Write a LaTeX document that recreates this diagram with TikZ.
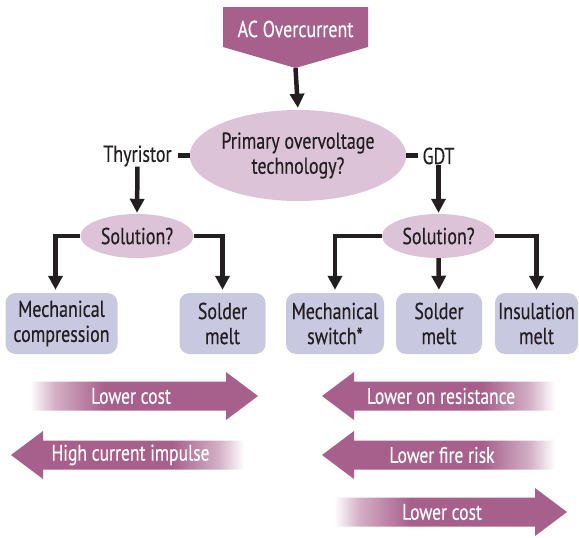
\documentclass[tikz,border=0pt]{standalone}
\usepackage{fontspec}
\setmainfont{PT Sans}[FakeStretch=0.78,FakeBold=0.4]
\usepackage{xcolor}
\definecolor{plum}{HTML}{A75F8B}
\definecolor{lilac}{HTML}{DCC3D7}
\definecolor{lav}{HTML}{C9C8E1}
\definecolor{ink}{HTML}{231F20}
\usepackage{tikz}
\usetikzlibrary{arrows.meta,positioning,shapes.geometric}
% white to plum (fade at the tail of right-pointing bands)
\pgfdeclarehorizontalshading{fadeL}{100bp}{color(0bp)=(white); color(25bp)=(white); color(30.5bp)=(plum!50); color(41.5bp)=(plum); color(100bp)=(plum)}
% plum to white (fade at the tail of left-pointing bands)
\pgfdeclarehorizontalshading{fadeR}{100bp}{color(0bp)=(plum); color(59.5bp)=(plum); color(69.5bp)=(plum!50); color(75bp)=(white); color(100bp)=(white)}
\tikzset{
  >={Triangle[length=14pt,width=14pt]},
  lnk/.style={draw=ink,line width=4.5pt},
  arr/.style={lnk,->,shorten >=3pt},
  qell/.style={ellipse,fill=lilac,inner sep=0pt,text=ink,align=center},
  box/.style={rectangle,rounded corners=10pt,fill=lav,inner sep=0pt,text=ink,align=center,minimum height=61pt},
  lab/.style={text=ink,inner sep=0pt},
  wlab/.style={text=white,inner sep=0pt},
  blab/.style={wlab,font=\fontsize{22.5}{25}\selectfont},
}

\begin{document}
\begin{tikzpicture}[x=1pt,y=-1pt,every node/.style={font=\fontsize{23}{25}\selectfont}]
\useasboundingbox (0,0) rectangle (579,538);
% top block
\fill[plum] (223,7) -- (368,7) -- (368,47) -- (295.5,68) -- (223,47) -- cycle;
\node[wlab] (ac) at (295.5,29) {AC Overcurrent};
\coordinate (actip) at (295.5,68);
\node[qell,minimum width=202pt,minimum height=91pt] (prim) at (298,155.5) {Primary overvoltage\\technology?};
\draw[arr,shorten >=2pt] (actip) -- (prim.north);
% branches
\node[lab] (thy) at (137.5,156) {Thyristor};
\node[lab] (gdt) at (438.5,156) {GDT};
\draw[lnk,shorten >=6pt] (prim.west) -- (prim.west -| thy.east);
\draw[lnk,shorten >=4pt] (prim.east) -- (prim.east -| gdt.west);
\node[qell,minimum width=113pt,minimum height=44pt] (solL) at (137,236) {Solution?};
\node[qell,minimum width=113pt,minimum height=44pt] (solR) at (438.5,236) {Solution?};
\draw[arr,shorten >=1pt] (thy.south) -- (solL.north);
\draw[arr,shorten >=1pt] (gdt.south) -- (solR.north);
% solutions
\node[box,minimum width=112pt] (mcomp) at (61.5,323.5) {Mechanical\\compression};
\node[box,minimum width=86pt] (smL) at (222.5,323.5) {Solder\\melt};
\node[box,minimum width=98pt] (msw) at (335,323.5) {Mechanical\\switch*};
\node[box,minimum width=86pt] (smR) at (439,323.5) {Solder\\melt};
\node[box,minimum width=83pt] (ins) at (536.5,323.5) {Insulation\\melt};
\draw[arr] (solL.west) -| ([xshift=-6pt]mcomp.north);
\draw[arr] (solL.east) -| (smL.north);
\draw[arr] (solR.west) -| (msw.north);
\draw[arr] (solR.south) -- (smR.north);
\draw[arr] (solR.east) -| (ins.north);
% trade-off bands
\shade[shading=fadeL] (30,381.5) -- (226,381.5) -- (226,372) -- (258,396) -- (226,420) -- (226,410.5) -- (30,410.5) -- cycle;
\shade[shading=fadeR] (244,440.5) -- (43,440.5) -- (43,431) -- (11,455) -- (43,479) -- (43,469.5) -- (244,469.5) -- cycle;
\shade[shading=fadeR] (555,381.5) -- (354,381.5) -- (354,372) -- (322,396) -- (354,420) -- (354,410.5) -- (555,410.5) -- cycle;
\shade[shading=fadeR] (555,440.5) -- (354,440.5) -- (354,431) -- (322,455) -- (354,479) -- (354,469.5) -- (555,469.5) -- cycle;
\shade[shading=fadeL] (334,497.5) -- (535,497.5) -- (535,488) -- (567,512) -- (535,536) -- (535,526.5) -- (334,526.5) -- cycle;
\node[blab] (costL) at (131,396) {Lower cost};
\node[blab] (impL) at (130.5,455) {High current impulse};
\node[blab] (resR) at (441,396) {Lower on resistance};
\node[blab] (fireR) at (442,455) {Lower fire risk};
\node[blab] (costR) at (442,512) {Lower cost};
\end{tikzpicture}
\end{document}
